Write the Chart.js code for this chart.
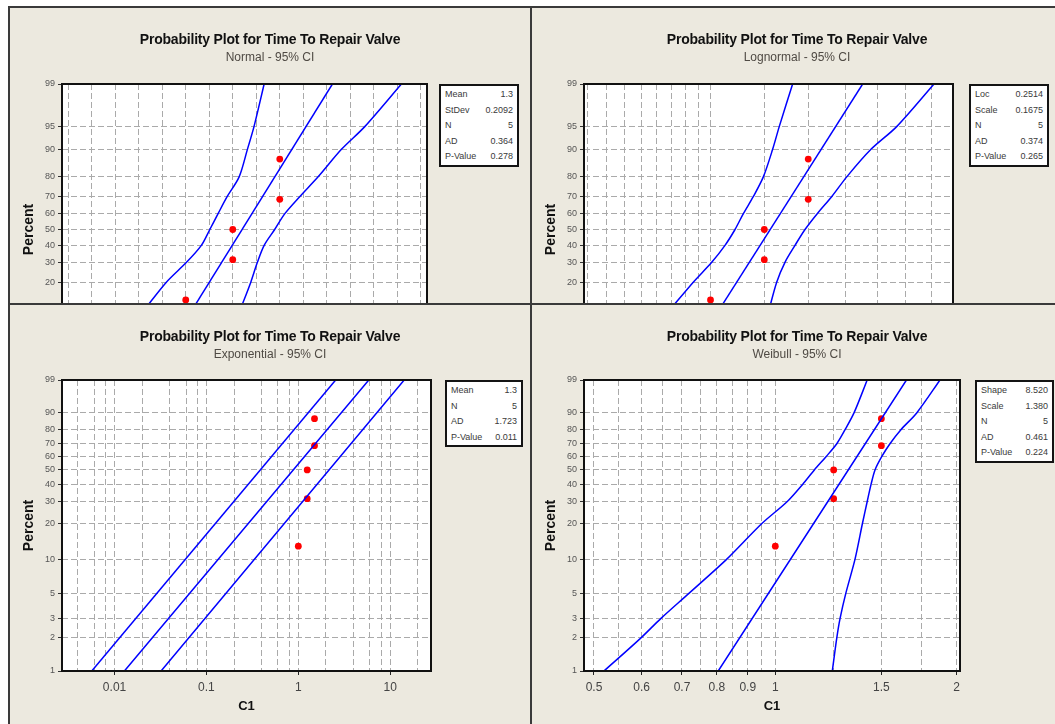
<!DOCTYPE html>
<html>
<head>
    <title>Probability Plot for Time To Repair Valve</title>
    <script src="https://cdn.jsdelivr.net/npm/chart.js"></script>
    <style>
        body {
            margin: 0;
            background: #fff;
            font-family: "Liberation Sans", Arial, sans-serif;
        }
        #page {
            position: relative;
            width: 1055px;
            height: 724px;
            overflow: hidden;
        }
        .bg { position: absolute; left: 10px; top: 8px; right: 0; bottom: 0; background: #ece9df; }
        .rule { position: absolute; background: #3a3a3a; z-index: 5; }
        .clip { position: absolute; overflow: hidden; }
        canvas { position: absolute; left: 0; top: 0; }
        .title {
            position: absolute;
            text-align: center;
            font-weight: bold;
            font-size: 14px;
            line-height: 16px;
            letter-spacing: -0.2px;
            color: #111;
            white-space: nowrap;
        }
        .sub {
            position: absolute;
            text-align: center;
            font-size: 12px;
            line-height: 14px;
            color: #4f4a44;
            white-space: nowrap;
        }
        .stats {
            position: absolute;
            box-sizing: border-box;
            border: 2px solid #141414;
            background: #fff;
            padding: 1px 4px 0 4px;
            font-size: 9px;
            line-height: 15.6px;
            color: #3a3a3a;
        }
        .stats div { display: flex; justify-content: space-between; }
    </style>
</head>
<body>
<div id="page">
    <div class="bg"></div>
    <div class="rule" style="left:8px;top:6px;width:1047px;height:2px"></div>
    <div class="rule" style="left:8px;top:6px;width:2px;height:718px"></div>
    <div class="rule" style="left:530px;top:6px;width:2px;height:718px"></div>
    <div class="rule" style="left:8px;top:303px;width:1047px;height:2px"></div>

    <div class="clip" style="left:10px;top:8px;width:520px;height:295px"><canvas id="normal" width="520" height="420"></canvas></div>
    <div class="clip" style="left:532px;top:8px;width:523px;height:295px"><canvas id="lognormal" width="523" height="420"></canvas></div>
    <div class="clip" style="left:10px;top:305px;width:520px;height:419px"><canvas id="exponential" width="520" height="419"></canvas></div>
    <div class="clip" style="left:532px;top:305px;width:523px;height:419px"><canvas id="weibull" width="523" height="419"></canvas></div>

    <div class="title" style="left:10px;width:520px;top:31px">Probability Plot for Time To Repair Valve</div>
    <div class="sub" style="left:10px;width:520px;top:50px">Normal - 95% CI</div>
    <div class="title" style="left:532px;width:530px;top:31px">Probability Plot for Time To Repair Valve</div>
    <div class="sub" style="left:532px;width:530px;top:50px">Lognormal - 95% CI</div>
    <div class="title" style="left:10px;width:520px;top:328px">Probability Plot for Time To Repair Valve</div>
    <div class="sub" style="left:10px;width:520px;top:347px">Exponential - 95% CI</div>
    <div class="title" style="left:532px;width:530px;top:328px">Probability Plot for Time To Repair Valve</div>
    <div class="sub" style="left:532px;width:530px;top:347px">Weibull - 95% CI</div>

    <div class="stats" style="left:439px;top:84px;width:80px">
        <div><span>Mean</span><span>1.3</span></div>
        <div><span>StDev</span><span>0.2092</span></div>
        <div><span>N</span><span>5</span></div>
        <div><span>AD</span><span>0.364</span></div>
        <div><span>P-Value</span><span>0.278</span></div>
    </div>
    <div class="stats" style="left:969px;top:84px;width:80px">
        <div><span>Loc</span><span>0.2514</span></div>
        <div><span>Scale</span><span>0.1675</span></div>
        <div><span>N</span><span>5</span></div>
        <div><span>AD</span><span>0.374</span></div>
        <div><span>P-Value</span><span>0.265</span></div>
    </div>
    <div class="stats" style="left:445px;top:380px;width:78px">
        <div><span>Mean</span><span>1.3</span></div>
        <div><span>N</span><span>5</span></div>
        <div><span>AD</span><span>1.723</span></div>
        <div><span>P-Value</span><span>0.011</span></div>
    </div>
    <div class="stats" style="left:975px;top:380px;width:79px">
        <div><span>Shape</span><span>8.520</span></div>
        <div><span>Scale</span><span>1.380</span></div>
        <div><span>N</span><span>5</span></div>
        <div><span>AD</span><span>0.461</span></div>
        <div><span>P-Value</span><span>0.224</span></div>
    </div>
</div>

<script>
    // observed C1 values and their plotted percents
    const obsC1 = [1, 1.25, 1.25, 1.5, 1.5];
    const obsPct = [13, 31.5, 50, 68.5, 87];

    // normal / lognormal bands (read at these percents)
    const bandPct = [99, 95, 90, 80, 70, 60, 50, 40, 30, 20, 10];
    const fitPctTop = [99, 10];

    const normalLeft = [1.417, 1.363, 1.328, 1.284, 1.220, 1.172, 1.128, 1.083, 1.004, 0.897, 0.78];
    const normalFit = [1.78, 1.035];
    const normalRight = [2.147, 1.952, 1.828, 1.704, 1.606, 1.527, 1.473, 1.417, 1.381, 1.346, 1.29];

    const lognormalLeft = [1.406, 1.330, 1.294, 1.245, 1.194, 1.146, 1.107, 1.062, 1.005, 0.931, 0.845];
    const lognormalFit = [1.88, 1.037];
    const lognormalRight = [2.528, 2.165, 1.946, 1.760, 1.653, 1.557, 1.480, 1.420, 1.362, 1.316, 1.275];

    // exponential: straight bands, ends at 1% and 99%
    const expPct = [1, 99];
    const expLeft = [0.00565, 2.55];
    const expFit = [0.0128, 5.85];
    const expRight = [0.0321, 14.2];

    // weibull bands
    const weibullPct = [1, 2, 3, 5, 10, 20, 30, 40, 50, 60, 70, 80, 90, 99];
    const weibullLeft = [0.5195, 0.5985, 0.646, 0.718, 0.83, 0.949, 1.047, 1.110, 1.161, 1.214, 1.265, 1.305, 1.351, 1.421];
    const weibullFitPct = [1, 99];
    const weibullFit = [0.804, 1.651];
    const weibullRight = [1.2435, 1.265, 1.281, 1.309, 1.356, 1.395, 1.421, 1.442, 1.464, 1.502, 1.550, 1.615, 1.717, 1.877];

    // axis ticks
    const normalYTicks = [1, 5, 10, 20, 30, 40, 50, 60, 70, 80, 90, 95, 99];
    const weibullYTicks = [1, 2, 3, 5, 10, 20, 30, 40, 50, 60, 70, 80, 90, 99];
    const normalXGrid = [0.375, 0.5, 0.625, 0.75, 0.875, 1, 1.125, 1.25, 1.375, 1.5, 1.625, 1.75, 1.875, 2, 2.125, 2.25];
    const normalXLabels = [0.5, 1, 1.5, 2];
    const lognormalXGrid = [0.6, 0.65, 0.7, 0.75, 0.8, 0.85, 0.9, 0.95, 1, 1.25, 1.5, 1.75, 2, 2.25, 2.5];
    const lognormalXLabels = [0.6, 1, 2];
    const expXGrid = [0.004, 0.006, 0.008, 0.01, 0.02, 0.04, 0.06, 0.08, 0.1, 0.2, 0.4, 0.6, 0.8, 1, 2, 4, 6, 8, 10, 20];
    const expXLabels = [0.01, 0.1, 1, 10];
    const weibullXGrid = [0.5, 0.55, 0.6, 0.65, 0.7, 0.75, 0.8, 0.85, 0.9, 0.95, 1, 1.25, 1.5, 1.75, 2];
    const weibullXLabels = [0.5, 0.6, 0.7, 0.8, 0.9, 1, 1.5, 2];

    // inverse normal cdf (Acklam)
    function probit(p) {
        const a = [-39.69683028665376, 220.9460984245205, -275.9285104469687, 138.3577518672690, -30.66479806614716, 2.506628277459239];
        const b = [-54.47609879822406, 161.5858368580409, -155.6989798598866, 66.80131188771972, -13.28068155288572];
        const c = [-0.007784894002430293, -0.3223964580411365, -2.400758277161838, -2.549732539343734, 4.374664141464968, 2.938163982698783];
        const d = [0.007784695709041462, 0.3224671290700398, 2.445134137142996, 3.754408661907416];
        const lo = 0.02425;
        let q, r;
        if (p < lo) {
            q = Math.sqrt(-2 * Math.log(p));
            return (((((c[0]*q+c[1])*q+c[2])*q+c[3])*q+c[4])*q+c[5]) / ((((d[0]*q+d[1])*q+d[2])*q+d[3])*q+1);
        }
        if (p > 1 - lo) {
            q = Math.sqrt(-2 * Math.log(1 - p));
            return -(((((c[0]*q+c[1])*q+c[2])*q+c[3])*q+c[4])*q+c[5]) / ((((d[0]*q+d[1])*q+d[2])*q+d[3])*q+1);
        }
        q = p - 0.5;
        r = q * q;
        return (((((a[0]*r+a[1])*r+a[2])*r+a[3])*r+a[4])*r+a[5])*q / (((((b[0]*r+b[1])*r+b[2])*r+b[3])*r+b[4])*r+1);
    }
    const weibit = p => Math.log(-Math.log(1 - p));

    // percent axis scales
    function probabilityScale(id, transform) {
        class ProbScale extends Chart.LinearScale {
            configure() {
                super.configure();
                this._t0 = transform(this.min / 100);
                this._t1 = transform(this.max / 100);
            }
            getPixelForValue(value) {
                return this.getPixelForDecimal((transform(value / 100) - this._t0) / (this._t1 - this._t0));
            }
        }
        ProbScale.id = id;
        ProbScale.defaults = Chart.LinearScale.defaults;
        Chart.register(ProbScale);
    }
    probabilityScale('normalprob', probit);
    probabilityScale('weibullprob', weibit);

    Chart.defaults.font.family = '"Liberation Sans", Arial, sans-serif';

    const plotFrame = {
        id: 'plotFrame',
        beforeDraw(chart) {
            const a = chart.chartArea, ctx = chart.ctx;
            ctx.save();
            ctx.fillStyle = '#fff';
            ctx.fillRect(a.left, a.top, a.width, a.height);
            ctx.restore();
        },
        afterDraw(chart) {
            const a = chart.chartArea, ctx = chart.ctx;
            ctx.save();
            ctx.strokeStyle = '#111';
            ctx.lineWidth = 2;
            ctx.strokeRect(a.left, a.top, a.width, a.height);
            ctx.restore();
        }
    };

    const pts = (xs, ys) => xs.map((x, i) => ({ x: x, y: ys[i] }));
    const curve = (xs, ys) => ({
        data: pts(xs, ys),
        showLine: true,
        borderColor: '#0000ff',
        borderWidth: 1.5,
        pointRadius: 0,
        tension: 0.3
    });
    const GRID = '#aaaaaa';

    function probPlot(id, c) {
        return new Chart(document.getElementById(id), {
            type: 'scatter',
            data: {
                datasets: [
                    curve(c.left, c.bandPct),
                    curve(c.fit, c.fitPct),
                    curve(c.right, c.bandPct),
                    {
                        data: pts(obsC1, obsPct),
                        pointRadius: 3.4,
                        pointBackgroundColor: '#ff0000',
                        pointBorderWidth: 0,
                        showLine: false
                    }
                ]
            },
            plugins: [plotFrame],
            options: {
                responsive: false,
                animation: false,
                events: [],
                layout: { padding: { left: 0, top: c.padTop, right: c.padRight, bottom: 0 } },
                plugins: { legend: { display: false }, tooltip: { enabled: false } },
                scales: {
                    x: {
                        type: c.xType,
                        min: c.xMin,
                        max: c.xMax,
                        bounds: 'data',
                        afterBuildTicks: s => { s.ticks = c.xGrid.map(v => ({ value: v })); },
                        afterFit: s => { s.height = 53; },
                        ticks: {
                            autoSkip: false,
                            maxRotation: 0,
                            padding: 5,
                            color: '#444',
                            font: { size: 12 },
                            callback: v => c.xLabels.includes(v) ? String(v) : ''
                        },
                        grid: {
                            color: GRID,
                            lineWidth: 1,
                            tickLength: 4,
                            tickColor: ctx => c.xLabels.includes(ctx.tick.value) ? '#222' : 'rgba(0,0,0,0)'
                        },
                        border: { display: false, dash: [6, 3] },
                        title: {
                            display: true,
                            text: 'C1',
                            color: '#111',
                            font: { size: 13, weight: 'bold' },
                            padding: { top: 0, bottom: 10 }
                        }
                    },
                    y: {
                        type: c.yType,
                        min: 1,
                        max: 99,
                        bounds: 'data',
                        afterBuildTicks: s => { s.ticks = c.yTicks.map(v => ({ value: v })); },
                        afterFit: s => { s.width = 52; },
                        ticks: {
                            autoSkip: false,
                            padding: 3,
                            color: '#555',
                            font: { size: 9 },
                            callback: v => String(v)
                        },
                        grid: { color: GRID, lineWidth: 1, tickLength: 4, tickColor: '#333' },
                        border: { display: false, dash: [6, 3] },
                        title: {
                            display: true,
                            text: 'Percent',
                            color: '#111',
                            font: { size: 14, weight: 'bold' },
                            padding: { top: 10.5, bottom: 0 }
                        }
                    }
                }
            }
        });
    }

    probPlot('normal', {
        left: normalLeft, fit: normalFit, right: normalRight,
        bandPct: bandPct, fitPct: fitPctTop,
        xType: 'linear', xMin: 0.342, xMax: 2.283,
        xGrid: normalXGrid, xLabels: normalXLabels,
        yType: 'normalprob', yTicks: normalYTicks,
        padTop: 76, padRight: 103
    });
    probPlot('lognormal', {
        left: lognormalLeft, fit: lognormalFit, right: lognormalRight,
        bandPct: bandPct, fitPct: fitPctTop,
        xType: 'logarithmic', xMin: 0.5916, xMax: 2.735,
        xGrid: lognormalXGrid, xLabels: lognormalXLabels,
        yType: 'normalprob', yTicks: normalYTicks,
        padTop: 76, padRight: 102
    });
    probPlot('exponential', {
        left: expLeft, fit: expFit, right: expRight,
        bandPct: expPct, fitPct: expPct,
        xType: 'logarithmic', xMin: 0.00268, xMax: 27.8,
        xGrid: expXGrid, xLabels: expXLabels,
        yType: 'weibullprob', yTicks: weibullYTicks,
        padTop: 75, padRight: 99
    });
    probPlot('weibull', {
        left: weibullLeft, fit: weibullFit, right: weibullRight,
        bandPct: weibullPct, fitPct: weibullFitPct,
        xType: 'logarithmic', xMin: 0.4813, xMax: 2.026,
        xGrid: weibullXGrid, xLabels: weibullXLabels,
        yType: 'weibullprob', yTicks: weibullYTicks,
        padTop: 75, padRight: 95
    });
</script>
</body>
</html>
